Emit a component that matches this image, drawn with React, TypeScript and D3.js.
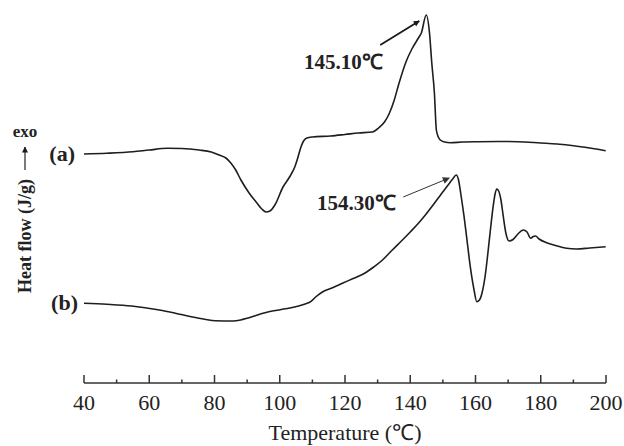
import React from "react";
import * as d3 from "d3";

// DSC curves, heat flow in arbitrary offset units
const tempA = [40, 47, 55, 60, 65.5, 70, 75.3, 79, 81.4, 83.5, 85, 86.5, 88.1, 90.6, 93, 94.5, 95.8, 97, 98.5, 101, 103, 104.6, 105.6, 106.5, 107.3, 108.3, 110, 115.6, 120, 124.1, 128.4, 130.3, 132.1, 133.5, 135.1, 136.4, 138.8, 140.5, 142.5, 143.4, 144.9, 145.9, 146.6, 147.4, 148, 148.6, 149.2, 150.5, 152.3, 156, 160.8, 167, 173, 180, 185, 190.1, 195, 199.9];
const flowA = [22.9, 22.98, 23.13, 23.3, 23.47, 23.45, 23.3, 23.1, 22.8, 22.5, 22.0, 21.3, 20.3, 19.0, 18.0, 17.4, 17.1, 17.2, 17.8, 19.6, 20.6, 21.6, 22.6, 23.6, 24.2, 24.5, 24.6, 24.7, 24.85, 25.0, 25.1, 25.5, 26.1, 26.9, 28.3, 29.8, 32.2, 33.4, 34.5, 35.0, 36.8, 35.0, 32.0, 29.0, 25.3, 24.6, 24.3, 24.1, 24.03, 24.1, 24.13, 24.15, 24.13, 24.0, 23.9, 23.73, 23.5, 23.23];

const tempB = [40, 47, 54.6, 63.1, 68, 72.9, 77, 80.2, 85.7, 88, 90, 92.5, 94.9, 97, 99.7, 103, 105.8, 108, 109.5, 111, 113.2, 116, 119.2, 122.5, 126, 128.8, 131.5, 134.5, 137.6, 140, 142.5, 145, 147.4, 149.5, 151.6, 153, 154.1, 154.8, 155.5, 156.5, 157.5, 158.4, 159.5, 160.4, 161.2, 162, 163, 163.8, 164.6, 165.4, 166, 166.5, 167.1, 167.8, 168.5, 169.3, 170.3, 171.5, 173, 174.6, 175.8, 176.9, 177.7, 178.4, 179.5, 181.8, 184.5, 187.9, 191, 195, 199.9];
const flowB = [7.97, 7.87, 7.7, 7.3, 6.98, 6.63, 6.38, 6.23, 6.2, 6.3, 6.47, 6.72, 6.97, 7.15, 7.3, 7.5, 7.7, 7.92, 8.13, 8.6, 9.13, 9.5, 9.97, 10.45, 10.97, 11.6, 12.3, 13.3, 14.3, 15.1, 15.97, 16.95, 17.97, 18.9, 19.8, 20.4, 20.8, 20.3, 18.9, 16.63, 14.0, 11.63, 9.4, 8.13, 8.3, 9.0, 10.8, 13.0, 15.4, 17.63, 18.9, 19.4, 19.2, 18.3, 16.7, 15.0, 14.2, 14.35, 14.9, 15.3, 15.1, 14.47, 14.65, 14.7, 14.4, 14.03, 13.75, 13.47, 13.4, 13.5, 13.63];

const majorTicks = [40, 60, 80, 100, 120, 140, 160, 180, 200];
const minorTicks = [50, 70, 90, 110, 130, 150, 170, 190];

const serif = "'Liberation Serif', 'Times New Roman', serif";

export default function App() {
  const width = 624;
  const height = 446;
  const axisY = 383;

  const x = d3.scaleLinear().domain([40, 200]).range([84, 606]);
  const y = d3.scaleLinear().domain([0, 37]).range([383, 13]);

  const line = d3
    .line<[number, number]>()
    .x((d) => x(d[0]))
    .y((d) => y(d[1]))
    .curve(d3.curveMonotoneX);

  const seriesA = tempA.map((t, i) => [t, flowA[i]] as [number, number]);
  const seriesB = tempB.map((t, i) => [t, flowB[i]] as [number, number]);

  // peak positions for the annotation arrows
  const peakA = seriesA[d3.maxIndex(seriesA, (d) => d[1])];
  const peakB = seriesB[d3.maxIndex(seriesB, (d) => d[1])];

  return (
    <svg
      width={width}
      height={height}
      style={{ position: "absolute", left: 0, top: 0, background: "#fff" }}
    >
      <defs>
        <marker id="headA" viewBox="0 0 10 10" refX="9" refY="5" markerWidth="7" markerHeight="6" orient="auto" markerUnits="userSpaceOnUse">
          <path d="M0,0 L10,5 L0,10 z" fill="#1a1a1a" />
        </marker>
        <marker id="headB" viewBox="0 0 10 10" refX="9" refY="5" markerWidth="11" markerHeight="7" orient="auto" markerUnits="userSpaceOnUse">
          <path d="M0,0 L10,5 L0,10 z" fill="#333" />
        </marker>
        <marker id="headY" viewBox="0 0 10 10" refX="9" refY="5" markerWidth="8" markerHeight="6" orient="auto" markerUnits="userSpaceOnUse">
          <path d="M0,0 L10,5 L0,10 z" fill="#1a1a1a" />
        </marker>
      </defs>

      {/* curves */}
      <path d={line(seriesA) ?? ""} fill="none" stroke="#1e1e1e" strokeWidth={1.6} />
      <path d={line(seriesB) ?? ""} fill="none" stroke="#1e1e1e" strokeWidth={1.6} />

      {/* x axis */}
      <g stroke="#333" strokeWidth={1.5}>
        <line x1={x(40)} x2={x(200)} y1={axisY} y2={axisY} />
        {majorTicks.map((t) => (
          <line key={"M" + t} x1={x(t)} x2={x(t)} y1={axisY} y2={axisY - 8} />
        ))}
        {minorTicks.map((t) => (
          <line key={"m" + t} x1={x(t)} x2={x(t)} y1={axisY} y2={axisY - 3.5} />
        ))}
      </g>
      <g fontFamily={serif} fontSize={22} fill="#222" textAnchor="middle">
        {majorTicks.map((t) => (
          <text key={t} x={x(t)} y={410}>
            {t}
          </text>
        ))}
        <text x={x(120)} y={440}>Temperature (℃)</text>
      </g>

      {/* y label */}
      <text
        transform="translate(31,236) rotate(-90)"
        fontFamily={serif}
        fontSize={18}
        fontWeight="bold"
        fill="#222"
        textAnchor="middle"
      >
        Heat flow (J/g)
      </text>
      <line x1={25} x2={25} y1={170} y2={147} stroke="#222" strokeWidth={1.2} markerEnd="url(#headY)" />
      <text x={25} y={137} fontFamily={serif} fontSize={17} fontWeight="bold" fill="#222" textAnchor="middle">
        exo
      </text>

      {/* curve labels */}
      <g fontFamily={serif} fontSize={22} fontWeight="bold" fill="#222" textAnchor="end">
        <text x={75} y={161}>(a)</text>
        <text x={78} y={310}>(b)</text>
      </g>

      {/* peak annotations */}
      <line
        x1={x(peakA[0]) - 46}
        y1={y(peakA[1]) + 30}
        x2={x(peakA[0]) - 7}
        y2={y(peakA[1]) + 6}
        stroke="#1a1a1a"
        strokeWidth={1.8}
        markerEnd="url(#headA)"
      />
      <text x={304} y={69} fontFamily={serif} fontSize={21} fontWeight="bold" fill="#222">
        145.10℃
      </text>
      <line
        x1={x(peakB[0]) - 53}
        y1={y(peakB[1]) + 22}
        x2={x(peakB[0]) - 7}
        y2={y(peakB[1]) + 3}
        stroke="#333"
        strokeWidth={1}
        markerEnd="url(#headB)"
      />
      <text x={317} y={210} fontFamily={serif} fontSize={21} fontWeight="bold" fill="#222">
        154.30℃
      </text>
    </svg>
  );
}
